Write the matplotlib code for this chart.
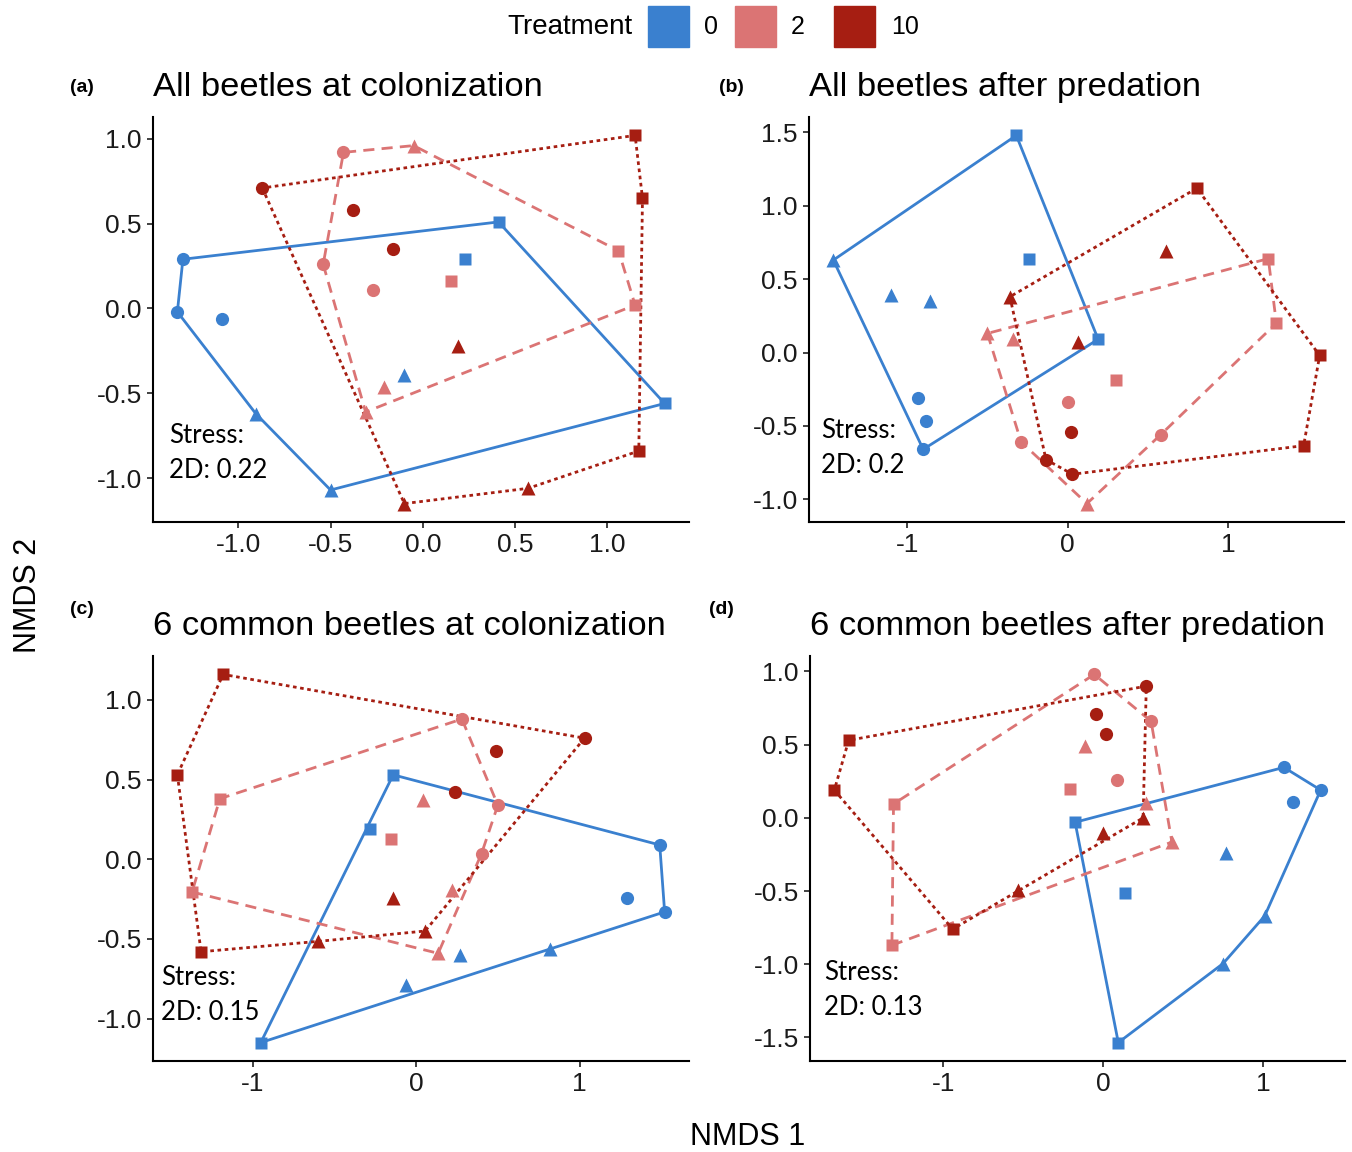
import numpy as np
import matplotlib
matplotlib.use("Agg")
import matplotlib.pyplot as plt
from matplotlib.patches import Rectangle
from matplotlib.ticker import MultipleLocator, FormatStrFormatter

plt.rcParams["font.family"] = ["Liberation Sans", "DejaVu Sans"]
plt.rcParams["axes.unicode_minus"] = False

# ---------------------------------------------------------------------------
# Data: NMDS scores
# order within each panel: treatment 0, 2, 10; per treatment 3 of each group
# ---------------------------------------------------------------------------
TREATMENT = [0] * 9 + [2] * 9 + [10] * 9
GROUP = (["A"] * 3 + ["B"] * 3 + ["C"] * 3) * 3

A_NMDS1 = [-1.30, -1.33, -1.09, -0.905, -0.50, -0.10, 0.41, 0.23, 1.31,
           -0.43, -0.54, -0.27, -0.05, -0.21, -0.31, 1.06, 0.15, 1.15,
           -0.87, -0.38, -0.16, 0.19, 0.57, -0.10, 1.15, 1.19, 1.17]
A_NMDS2 = [0.29, -0.02, -0.06, -0.62, -1.07, -0.39, 0.51, 0.29, -0.56,
           0.92, 0.26, 0.11, 0.96, -0.46, -0.61, 0.34, 0.16, 0.02,
           0.71, 0.58, 0.35, -0.22, -1.06, -1.15, 1.02, 0.65, -0.84]

B_NMDS1 = [-0.93, -0.88, -0.90, -1.46, -1.10, -0.855, -0.32, -0.24, 0.19,
           -0.29, 0.00, 0.58, -0.50, -0.34, 0.12, 1.25, 1.30, 0.30,
           -0.135, 0.02, 0.03, -0.36, 0.61, 0.065, 0.805, 1.57, 1.47]
B_NMDS2 = [-0.31, -0.47, -0.66, 0.63, 0.39, 0.35, 1.48, 0.64, 0.09,
           -0.61, -0.34, -0.56, 0.13, 0.09, -1.03, 0.64, 0.20, -0.19,
           -0.73, -0.54, -0.83, 0.38, 0.69, 0.07, 1.12, -0.02, -0.635]

C_NMDS1 = [1.49, 1.29, 1.52, -0.06, 0.27, 0.82, -0.14, -0.28, -0.95,
           0.28, 0.50, 0.40, 0.04, 0.22, 0.135, -1.20, -0.155, -1.37,
           1.03, 0.49, 0.24, -0.14, -0.60, 0.055, -1.18, -1.46, -1.315]
C_NMDS2 = [0.09, -0.24, -0.33, -0.79, -0.60, -0.56, 0.53, 0.19, -1.15,
           0.88, 0.34, 0.035, 0.375, -0.195, -0.59, 0.38, 0.13, -0.205,
           0.76, 0.68, 0.42, -0.24, -0.515, -0.45, 1.16, 0.53, -0.58]

D_NMDS1 = [1.13, 1.36, 1.185, 0.77, 1.01, 0.75, -0.175, 0.137, 0.095,
           -0.055, 0.30, 0.09, -0.115, 0.27, 0.43, -1.31, -0.21, -1.32,
           0.27, -0.045, 0.02, -0.53, 0.25, 0.00, -1.59, -1.68, -0.94]
D_NMDS2 = [0.345, 0.19, 0.11, -0.24, -0.67, -0.995, -0.03, -0.51, -1.535,
           0.98, 0.66, 0.26, 0.49, 0.10, -0.165, 0.095, 0.20, -0.87,
           0.90, 0.71, 0.57, -0.49, 0.00, -0.105, 0.53, 0.19, -0.76]

TITLES = ["All beetles at colonization", "All beetles after predation",
          "6 common beetles at colonization", "6 common beetles after predation"]
TAGS = ["(a)", "(b)", "(c)", "(d)"]
STRESS = ["0.22", "0.2", "0.15", "0.13"]

# ---------------------------------------------------------------------------
# Styles
# ---------------------------------------------------------------------------
COLORS = {0: "#3A80CF", 2: "#DB7474", 10: "#A61E12"}
DASHES = {0: None, 2: (4.0, 2.6), 10: (1.3, 1.3)}
MARKERS = {"A": "o", "B": "^", "C": "s"}
MSIZE = {"A": 9.5, "B": 10.5, "C": 8.5}


def convex_hull(pts):
    pts = sorted(set(map(tuple, pts)))
    if len(pts) < 3:
        return pts

    def cross(o, a, b):
        return (a[0] - o[0]) * (b[1] - o[1]) - (a[1] - o[1]) * (b[0] - o[0])

    lower, upper = [], []
    for p in pts:
        while len(lower) >= 2 and cross(lower[-2], lower[-1], p) <= 0:
            lower.pop()
        lower.append(p)
    for p in reversed(pts):
        while len(upper) >= 2 and cross(upper[-2], upper[-1], p) <= 0:
            upper.pop()
        upper.append(p)
    return lower[:-1] + upper[:-1]


def draw_panel(ax, xs, ys, xstep, ystep, xfmt, yfmt, stress_pos, stress):
    xs = np.asarray(xs)
    ys = np.asarray(ys)
    treat = np.asarray(TREATMENT)
    grp = np.asarray(GROUP)

    for t in [0, 2, 10]:
        m = treat == t
        hull = convex_hull(np.column_stack([xs[m], ys[m]]))
        hull.append(hull[0])
        hx, hy = zip(*hull)
        line, = ax.plot(hx, hy, color=COLORS[t], lw=2.0, zorder=2)
        if DASHES[t] is not None:
            line.set_dashes(DASHES[t])
            line.set_dash_capstyle("butt")

    for t in [0, 2, 10]:
        for g in ["A", "B", "C"]:
            m = (treat == t) & (grp == g)
            ax.plot(xs[m], ys[m], ls="none", marker=MARKERS[g], ms=MSIZE[g],
                    color=COLORS[t], mec="none", zorder=3)

    ax.margins(0.05)
    ax.xaxis.set_major_locator(MultipleLocator(xstep))
    ax.yaxis.set_major_locator(MultipleLocator(ystep))
    ax.xaxis.set_major_formatter(FormatStrFormatter(xfmt))
    ax.yaxis.set_major_formatter(FormatStrFormatter(yfmt))
    for s in ["top", "right"]:
        ax.spines[s].set_visible(False)
    for s in ["left", "bottom"]:
        ax.spines[s].set_linewidth(1.5)
    ax.tick_params(direction="out", length=4, width=1.3, color="#333333",
                   labelsize=19, labelcolor="#1a1a1a", pad=4)

    ax.text(stress_pos[0], stress_pos[1], f"Stress:\n2D: {stress}",
            transform=ax.transAxes, ha="left", va="center", fontsize=18.5,
            family=["Lato", "DejaVu Sans"], linespacing=1.5, zorder=4)


# ---------------------------------------------------------------------------
# Figure
# ---------------------------------------------------------------------------
W, H = 1352, 1152
fig = plt.figure(figsize=(W / 100, H / 100), dpi=100)


def px_axes(left, top, width, height):
    return fig.add_axes([left / W, 1 - (top + height) / H, width / W, height / H])


axes = [
    px_axes(153, 117, 536, 405),
    px_axes(809, 117, 535, 405),
    px_axes(153, 656, 536, 405),
    px_axes(810, 656, 535, 405),
]

panels = [
    (A_NMDS1, A_NMDS2, 0.5, 0.5, "%.1f", "%.1f", (0.030, 0.170)),
    (B_NMDS1, B_NMDS2, 1.0, 0.5, "%d", "%.1f", (0.022, 0.182)),
    (C_NMDS1, C_NMDS2, 1.0, 0.5, "%d", "%.1f", (0.015, 0.162)),
    (D_NMDS1, D_NMDS2, 1.0, 0.5, "%d", "%.1f", (0.026, 0.175)),
]

for i, (ax, p) in enumerate(zip(axes, panels)):
    xs, ys, xst, yst, xf, yf, spos = p
    draw_panel(ax, xs, ys, xst, yst, xf, yf, spos, STRESS[i])
    ax.set_title(TITLES[i], loc="left", fontsize=24.8, pad=15)

# panel tags
for tag, (x, y) in zip(TAGS, [(82, 87), (731, 87), (82, 610), (721, 610)]):
    fig.text(x / W, 1 - y / H, tag, ha="center", va="center",
             fontsize=14, fontweight="bold")

# shared axis labels
fig.text(28 / W, 1 - 595 / H, "NMDS 2", rotation=90, ha="center",
         va="center", fontsize=22)
fig.text(748 / W, 1 - 1137 / H, "NMDS 1", ha="center", va="center",
         fontsize=22)

# legend
fig.text(632 / W, 1 - 27 / H, "Treatment", ha="right", va="center",
         fontsize=20)
for t, x0, lx in [(0, 648, 711), (2, 735, 798), (10, 834, 905)]:
    fig.add_artist(Rectangle((x0 / W, 1 - 47 / H), 41 / W, 41 / H,
                             transform=fig.transFigure, color=COLORS[t]))
    fig.text(lx / W, 1 - 27 / H, str(t), ha="center", va="center",
             fontsize=18)

fig.savefig("out.png", dpi=100)
